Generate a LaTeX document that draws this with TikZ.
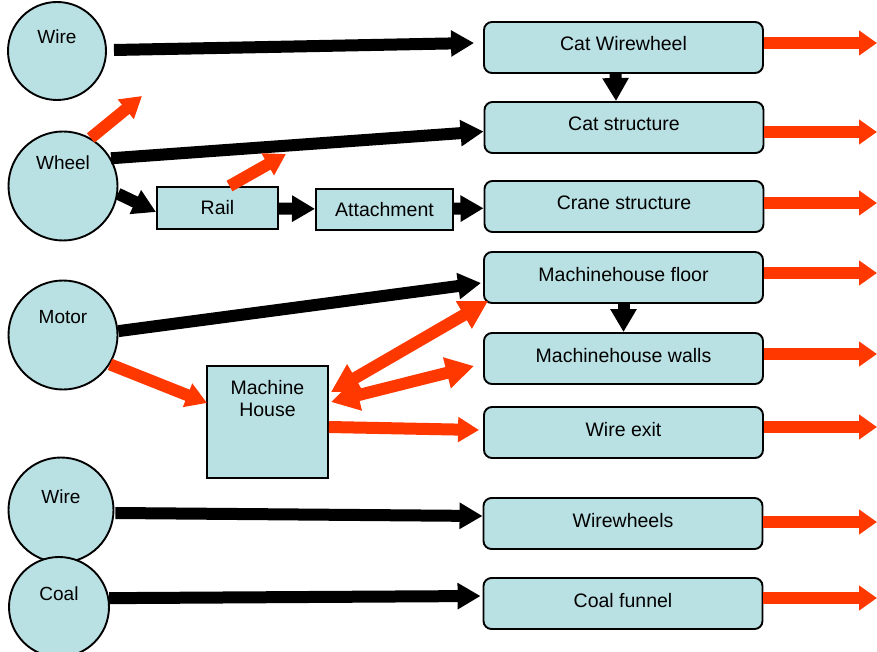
\documentclass[tikz,border=0pt]{standalone}
\usepackage{fontspec}
\setmainfont{Liberation Sans}
\usetikzlibrary{arrows.meta,positioning,calc}
\definecolor{boxfill}{RGB}{185,224,227}
\definecolor{flowred}{RGB}{255,56,0}

\begin{document}
\begin{tikzpicture}[x=1pt,y=-1pt,
  src/.style={circle,draw,line width=1.9pt,fill=boxfill,minimum size=#1,inner sep=0pt,
    font=\fontsize{19}{22}\selectfont,text height=14pt},
  part/.style={rectangle,draw,line width=1.9pt,fill=boxfill,font=\fontsize{19.5}{22}\selectfont},
  target/.style={part,rounded corners=8pt,minimum width=279pt,minimum height=51pt,
    text height=14pt,text depth=7pt},
  blk/.style={line width=12pt,black,-{Triangle[length=23pt,width=25pt]}},
  flow/.style={line width=12pt,flowred,-{Triangle[length=21pt,width=24pt]}},
  flowboth/.style={line width=12pt,flowred,
    {Triangle[length=28pt,width=30pt]}-{Triangle[length=28pt,width=30pt]}}]
\useasboundingbox (0,0) rectangle (877,652);

% Sources
\node[src=98pt,text depth=28pt] (wireA) at (57,51) {Wire};
\node[src=109pt,text depth=46pt] (wheel) at (63,186) {Wheel};
\node[src=109pt,text depth=38pt] (motor) at (63,335) {Motor};
\node[src=105pt,text depth=28pt] (wireB) at (61,510) {Wire};
\node[src=100pt,text depth=28pt] (coal) at (59,607) {Coal};

% Intermediate parts
\node[part,minimum width=121pt,minimum height=42pt] (rail) at (217.5,208) {Rail};
\node[part,minimum width=137pt,minimum height=41pt] (attach) at (384.5,209.5) {Attachment};
\node[part,minimum width=121pt,minimum height=112pt,inner sep=0pt] (mhouse) at (267.5,422)
  {\parbox[c][104pt][t]{110pt}{\centering\vspace*{10pt}Machine\\House}};

% Targets
\node[target] (catww) at (623.5,47.5) {Cat Wirewheel};
\node[target] (catstr) at (624,127.5) {Cat structure};
\node[target] (crane) at (624,206.5) {Crane structure};
\node[target] (floor) at (623.5,277.5) {Machinehouse floor};
\node[target] (walls) at (623.5,358.5) {Machinehouse walls};
\node[target] (wexit) at (623.5,432.5) {Wire exit};
\node[target] (wwheels) at (623,523.5) {Wirewheels};
\node[target] (funnel) at (623,603.5) {Coal funnel};

% Black arrows
\draw[blk] ($(wireA.east)+(7,-1)$) -- ($(catww.west)+(-9,-4.5)$);
\draw[blk] (wheel.30) -- ($(catstr.west)+(0,4)$);
\draw[blk] (wheel.-8) -- ($(rail.west)+(0,4)$);
\draw[blk] (rail) -- (attach);
\draw[blk] (attach) -- (crane);
\draw[blk] ($(catww.south)+(-8,0)$) -- ($(catstr.north)+(-8,0)$);
\draw[blk] (motor.4) -- ($(floor.west)+(-2,5.5)$);
\draw[blk] (floor) -- (walls);
\draw[blk] ($(wireB.east)+(1,3)$) -- ($(wwheels.west)+(0,-7.5)$);
\draw[blk] (coal.10) -- ($(funnel.west)+(-2,-7.5)$);

% Red arrows
\coordinate (wheelup) at (142,96);
\coordinate (railup) at (286,154);
\draw[flow] (wheel.60) -- (wheelup);
\draw[flow] ($(rail.north)+(12,0)$) -- (railup);
\draw[flow] (motor.-32) -- ($(mhouse.west)+(1,-19)$);
\draw[flowboth] ($(mhouse.east)+(2,-30)$) -- ($(floor.south west)+(5,-3)$);
\draw[flowboth] ($(mhouse.east)+(2,-20)$) -- ($(walls.west)+(-9,7.5)$);
\draw[flow] ($(mhouse.east)+(0,5)$) -- ($(wexit.west)+(-4,-2.5)$);

% Outputs
\coordinate (rim) at (877,0);
\foreach \t/\dy in {catww/-4.5,catstr/4.5,crane/-3.5,floor/-4.5,walls/-4.5,wexit/-5.5,wwheels/-1.5,funnel/-5.5}
  \draw[flow,-{Triangle[length=18pt,width=24pt]}] ($(\t.east)+(0,\dy)$) coordinate (s) -- (s -| rim);
\end{tikzpicture}
\end{document}
